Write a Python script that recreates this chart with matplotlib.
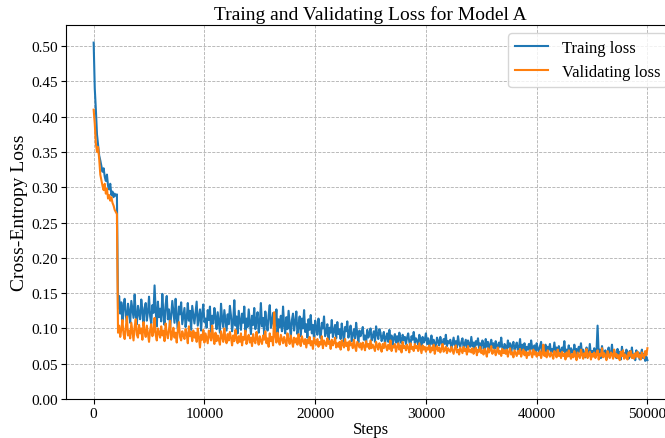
import numpy as np
import matplotlib
matplotlib.use("Agg")
import matplotlib.pyplot as plt

plt.rcParams['font.family'] = ['Liberation Serif', 'DejaVu Serif']

# losses logged every 100 steps
steps = np.arange(0, 50001, 100)

train_loss = [
    0.505, 0.44, 0.41, 0.375, 0.36, 0.345, 0.338, 0.33, 0.322, 0.327, 0.315,
    0.309, 0.318, 0.302, 0.297, 0.305, 0.289, 0.294, 0.286, 0.291, 0.288, 0.29,
    0.128, 0.146, 0.121, 0.137, 0.112, 0.131, 0.142, 0.118, 0.109, 0.135,
    0.124, 0.108, 0.139, 0.127, 0.115, 0.148, 0.119, 0.106, 0.132, 0.121,
    0.113, 0.141, 0.126, 0.104, 0.129, 0.136, 0.111, 0.123, 0.145, 0.117,
    0.107, 0.133, 0.122, 0.161, 0.125, 0.103, 0.138, 0.116, 0.128, 0.110,
    0.149, 0.121, 0.105, 0.134, 0.146, 0.113, 0.127, 0.101, 0.118, 0.139,
    0.124, 0.108, 0.142, 0.115, 0.099, 0.131, 0.120, 0.137, 0.106, 0.117,
    0.129, 0.102, 0.114, 0.136, 0.111, 0.125, 0.098, 0.132, 0.119, 0.107,
    0.122, 0.138, 0.104, 0.116, 0.127, 0.097, 0.121, 0.134, 0.109, 0.114,
    0.101, 0.126, 0.112, 0.131, 0.095, 0.118, 0.107, 0.129, 0.116, 0.099,
    0.123, 0.108, 0.094, 0.135, 0.113, 0.102, 0.126, 0.111, 0.097, 0.120,
    0.106, 0.132, 0.118, 0.096, 0.110, 0.140, 0.104, 0.117, 0.093, 0.125,
    0.112, 0.098, 0.121, 0.108, 0.131, 0.095, 0.114, 0.102, 0.127, 0.109,
    0.092, 0.118, 0.105, 0.129, 0.099, 0.112, 0.123, 0.094, 0.107, 0.136,
    0.103, 0.115, 0.091, 0.124, 0.108, 0.097, 0.119, 0.133, 0.101, 0.110,
    0.122, 0.095, 0.106, 0.127, 0.090, 0.113, 0.102, 0.118, 0.096, 0.131,
    0.104, 0.093, 0.116, 0.099, 0.125, 0.107, 0.088, 0.112, 0.121, 0.097,
    0.109, 0.124, 0.092, 0.103, 0.117, 0.089, 0.114, 0.100, 0.126, 0.095,
    0.106, 0.087, 0.113, 0.098, 0.119, 0.093, 0.105, 0.084, 0.111, 0.102,
    0.091, 0.114, 0.097, 0.086, 0.108, 0.100, 0.117, 0.089, 0.095, 0.106,
    0.083, 0.101, 0.094, 0.112, 0.088, 0.097, 0.105, 0.086, 0.109, 0.092,
    0.099, 0.085, 0.107, 0.093, 0.081, 0.102, 0.096, 0.110, 0.087, 0.094,
    0.104, 0.082, 0.091, 0.099, 0.086, 0.108, 0.093, 0.080, 0.097, 0.089,
    0.095, 0.102, 0.084, 0.090, 0.079, 0.098, 0.087, 0.093, 0.100, 0.083,
    0.089, 0.096, 0.081, 0.103, 0.092, 0.085, 0.099, 0.094, 0.082, 0.088,
    0.095, 0.078, 0.087, 0.093, 0.081, 0.098, 0.084, 0.090, 0.077, 0.086,
    0.092, 0.080, 0.089, 0.076, 0.094, 0.085, 0.079, 0.091, 0.083, 0.088,
    0.078, 0.087, 0.093, 0.081, 0.075, 0.089, 0.084, 0.095, 0.079, 0.086,
    0.082, 0.077, 0.091, 0.085, 0.074, 0.088, 0.080, 0.084, 0.093, 0.078,
    0.086, 0.073, 0.081, 0.090, 0.077, 0.084, 0.079, 0.072, 0.087, 0.082,
    0.076, 0.088, 0.080, 0.074, 0.085, 0.078, 0.091, 0.075, 0.082, 0.079,
    0.084, 0.071, 0.079, 0.087, 0.076, 0.082, 0.073, 0.089, 0.078, 0.074,
    0.081, 0.086, 0.072, 0.078, 0.084, 0.070, 0.083, 0.077, 0.074, 0.088,
    0.075, 0.080, 0.069, 0.082, 0.077, 0.086, 0.072, 0.079, 0.071, 0.083,
    0.078, 0.070, 0.085, 0.074, 0.081, 0.068, 0.077, 0.084, 0.073, 0.079,
    0.071, 0.082, 0.076, 0.069, 0.080, 0.074, 0.087, 0.072, 0.067, 0.078,
    0.075, 0.068, 0.083, 0.073, 0.079, 0.066, 0.076, 0.081, 0.070, 0.074,
    0.080, 0.069, 0.073, 0.085, 0.067, 0.077, 0.071, 0.079, 0.065, 0.074,
    0.070, 0.078, 0.066, 0.083, 0.072, 0.068, 0.076, 0.064, 0.079, 0.071,
    0.067, 0.075, 0.081, 0.065, 0.072, 0.068, 0.077, 0.063, 0.074, 0.070,
    0.078, 0.064, 0.071, 0.067, 0.080, 0.066, 0.073, 0.062, 0.075, 0.069,
    0.065, 0.073, 0.068, 0.082, 0.063, 0.070, 0.066, 0.076, 0.061, 0.072,
    0.068, 0.062, 0.077, 0.065, 0.071, 0.060, 0.074, 0.067, 0.079, 0.063,
    0.070, 0.064, 0.059, 0.073, 0.066, 0.062, 0.078, 0.061, 0.068, 0.065,
    0.072, 0.060, 0.067, 0.104, 0.063, 0.070, 0.058, 0.075, 0.064, 0.061,
    0.069, 0.057, 0.066, 0.073, 0.060, 0.064, 0.077, 0.059, 0.068, 0.062,
    0.058, 0.071, 0.063, 0.067, 0.056, 0.074, 0.061, 0.065, 0.059, 0.070,
    0.064, 0.057, 0.068, 0.060, 0.073, 0.058, 0.063, 0.055, 0.069, 0.061,
    0.066, 0.056, 0.062, 0.070, 0.058, 0.064, 0.054, 0.060, 0.055,
]

val_loss = [
    0.41, 0.39, 0.362, 0.35, 0.357, 0.34, 0.318, 0.31, 0.302, 0.296, 0.305,
    0.291, 0.298, 0.284, 0.289, 0.281, 0.286, 0.278, 0.274, 0.268, 0.265, 0.262,
    0.094, 0.104, 0.088, 0.099, 0.112, 0.092, 0.085, 0.101, 0.117, 0.090,
    0.097, 0.086, 0.108, 0.095, 0.083, 0.102, 0.113, 0.091, 0.087, 0.105,
    0.093, 0.100, 0.084, 0.109, 0.096, 0.088, 0.104, 0.092, 0.081, 0.098,
    0.106, 0.089, 0.095, 0.115, 0.091, 0.083, 0.100, 0.094, 0.087, 0.103,
    0.090, 0.097, 0.082, 0.107, 0.093, 0.086, 0.099, 0.111, 0.084, 0.092,
    0.101, 0.087, 0.094, 0.080, 0.098, 0.109, 0.088, 0.083, 0.096, 0.090,
    0.085, 0.099, 0.092, 0.079, 0.103, 0.089, 0.095, 0.082, 0.097, 0.087,
    0.094, 0.081, 0.100, 0.088, 0.073, 0.091, 0.084, 0.098, 0.080, 0.093,
    0.086, 0.079, 0.097, 0.089, 0.083, 0.104, 0.087, 0.078, 0.094, 0.082,
    0.090, 0.084, 0.077, 0.096, 0.088, 0.081, 0.100, 0.085, 0.079, 0.092,
    0.083, 0.095, 0.087, 0.076, 0.090, 0.082, 0.098, 0.086, 0.079, 0.089,
    0.081, 0.093, 0.076, 0.088, 0.084, 0.097, 0.078, 0.086, 0.091, 0.080,
    0.087, 0.075, 0.092, 0.083, 0.079, 0.095, 0.085, 0.077, 0.089, 0.082,
    0.078, 0.090, 0.084, 0.096, 0.079, 0.086, 0.074, 0.093, 0.082, 0.088,
    0.076, 0.123, 0.089, 0.080, 0.094, 0.083, 0.077, 0.091, 0.085, 0.079,
    0.088, 0.081, 0.075, 0.093, 0.084, 0.078, 0.090, 0.082, 0.074, 0.087,
    0.080, 0.086, 0.077, 0.092, 0.081, 0.075, 0.089, 0.083, 0.078, 0.085,
    0.073, 0.084, 0.079, 0.088, 0.076, 0.082, 0.071, 0.087, 0.080, 0.077,
    0.085, 0.074, 0.081, 0.077, 0.089, 0.072, 0.083, 0.079, 0.075, 0.086,
    0.078, 0.082, 0.071, 0.084, 0.076, 0.080, 0.087, 0.073, 0.079, 0.074,
    0.081, 0.070, 0.083, 0.077, 0.073, 0.085, 0.075, 0.080, 0.069, 0.082,
    0.076, 0.079, 0.072, 0.084, 0.074, 0.068, 0.081, 0.077, 0.073, 0.079,
    0.070, 0.080, 0.075, 0.069, 0.082, 0.074, 0.078, 0.071, 0.083, 0.072,
    0.077, 0.073, 0.068, 0.081, 0.075, 0.070, 0.079, 0.074, 0.067, 0.078,
    0.072, 0.080, 0.074, 0.069, 0.077, 0.071, 0.083, 0.068, 0.075, 0.073,
    0.078, 0.067, 0.074, 0.079, 0.070, 0.076, 0.066, 0.081, 0.072, 0.075,
    0.069, 0.077, 0.073, 0.066, 0.079, 0.071, 0.074, 0.068, 0.078, 0.072,
    0.075, 0.068, 0.079, 0.072, 0.065, 0.076, 0.070, 0.074, 0.067, 0.073,
    0.070, 0.076, 0.066, 0.073, 0.069, 0.077, 0.064, 0.072, 0.075, 0.068,
    0.073, 0.066, 0.071, 0.078, 0.067, 0.070, 0.074, 0.065, 0.072, 0.069,
    0.067, 0.074, 0.069, 0.064, 0.072, 0.076, 0.066, 0.070, 0.063, 0.073,
    0.069, 0.065, 0.074, 0.068, 0.071, 0.063, 0.075, 0.067, 0.070, 0.066,
    0.072, 0.064, 0.068, 0.073, 0.062, 0.070, 0.067, 0.074, 0.065, 0.069,
    0.063, 0.071, 0.067, 0.060, 0.072, 0.066, 0.069, 0.075, 0.064, 0.068,
    0.070, 0.062, 0.067, 0.073, 0.064, 0.068, 0.061, 0.071, 0.065, 0.069,
    0.064, 0.070, 0.060, 0.067, 0.072, 0.063, 0.066, 0.059, 0.069, 0.065,
    0.061, 0.068, 0.064, 0.071, 0.060, 0.066, 0.070, 0.062, 0.067, 0.058,
    0.066, 0.062, 0.069, 0.064, 0.059, 0.070, 0.063, 0.067, 0.060, 0.065,
    0.062, 0.068, 0.058, 0.065, 0.077, 0.061, 0.066, 0.059, 0.069, 0.063,
    0.060, 0.066, 0.062, 0.057, 0.068, 0.064, 0.059, 0.070, 0.061, 0.065,
    0.058, 0.067, 0.061, 0.064, 0.056, 0.066, 0.060, 0.069, 0.062, 0.057,
    0.064, 0.059, 0.068, 0.061, 0.055, 0.066, 0.062, 0.058, 0.070, 0.063,
    0.057, 0.065, 0.060, 0.071, 0.058, 0.062, 0.067, 0.056, 0.064, 0.060,
    0.066, 0.058, 0.063, 0.069, 0.056, 0.064, 0.061, 0.072, 0.059, 0.065,
    0.061, 0.055, 0.068, 0.062, 0.058, 0.066, 0.063, 0.057, 0.070, 0.060,
    0.064, 0.058, 0.062, 0.055, 0.067, 0.061, 0.069, 0.057, 0.063, 0.059,
    0.056, 0.066, 0.061, 0.068, 0.058, 0.063, 0.057, 0.065, 0.060, 0.067,
    0.059, 0.063, 0.056, 0.066, 0.061, 0.058, 0.068, 0.062, 0.072,
]

fig = plt.figure(figsize=(6.65, 4.39), dpi=100)
ax = fig.add_axes([0.0992, 0.0888, 0.916, 0.852])

ax.plot(steps, train_loss, color='#1f77b4', linewidth=1.5, label='Traing loss')
ax.plot(steps, val_loss, color='#ff7f0e', linewidth=1.5, label='Validating loss')

ax.set_xlim(-2500, 52500)
ax.set_ylim(0, 0.53)
ax.set_yticks(np.arange(0, 0.51, 0.05))
ax.set_xticks([0, 10000, 20000, 30000, 40000, 50000])
ax.tick_params(labelsize=11, pad=2)

ax.grid(True, linestyle='--', color='#b0b0b0', linewidth=0.6)
ax.set_title('Traing and Validating Loss for Model A', fontsize=14, pad=4)
ax.set_xlabel('Steps', fontsize=12, labelpad=1)
ax.set_ylabel('Cross-Entropy Loss', fontsize=14, labelpad=3)
ax.legend(loc='upper right', fontsize=12)

fig.savefig('out.png', dpi=100)
